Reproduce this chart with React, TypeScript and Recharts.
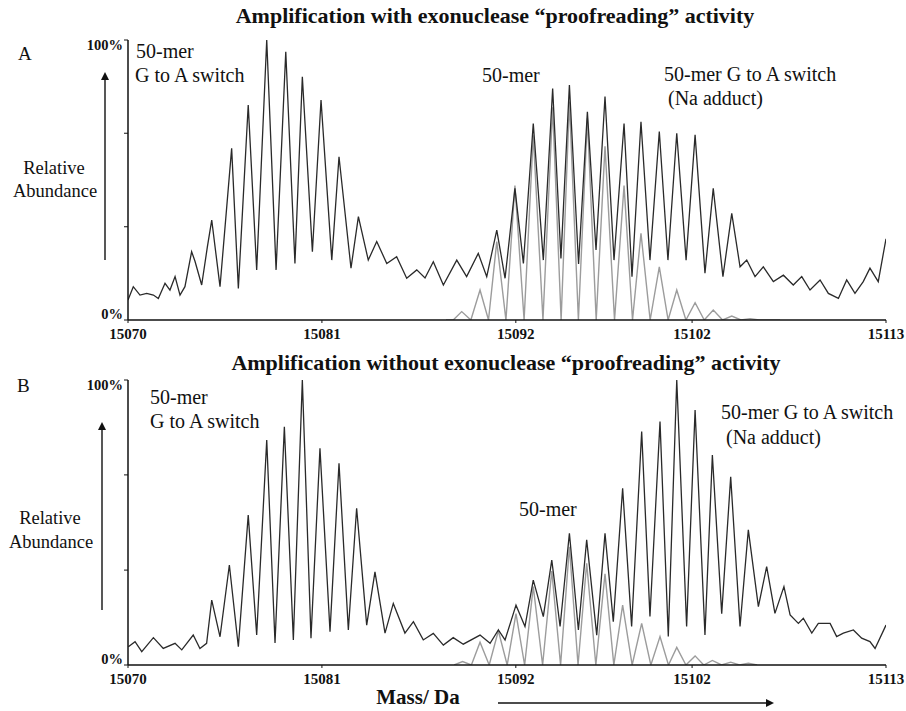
import React from 'react';
import { ComposedChart, Line, XAxis, YAxis } from 'recharts';

const FONT = "'Liberation Serif', 'Times New Roman', Times, serif";

const xTicks = [15070, 15081, 15092, 15102, 15113];
const yTicks = [0, 33.3, 66.7, 100];

// Panel A: observed spectrum, amplification with proofreading
const massA = [15070.0, 15070.3, 15070.68, 15071.06, 15071.44, 15071.72, 15072.1, 15072.38, 15072.67, 15072.95,
  15073.23, 15073.61, 15073.8, 15074.18, 15074.5, 15074.75, 15075.22, 15075.88, 15076.26, 15076.82,
  15077.3, 15077.87, 15078.4, 15078.95, 15079.47, 15079.89, 15080.46, 15080.95, 15081.56, 15081.97,
  15082.65, 15083.07, 15083.63, 15084.11, 15084.68, 15085.24, 15085.81, 15086.38, 15086.85, 15087.32,
  15087.89, 15088.65, 15089.21, 15089.87, 15090.35, 15090.92, 15091.39, 15091.95, 15092.43, 15092.99,
  15093.56, 15094.09, 15094.56, 15095.04, 15095.56, 15096.06, 15096.55, 15097.06, 15097.57, 15098.14,
  15098.59, 15099.1, 15099.61, 15100.14, 15100.63, 15101.13, 15101.66, 15102.17, 15102.73, 15103.2,
  15103.75, 15104.25, 15104.72, 15105.1, 15105.57, 15106.04, 15106.61, 15107.18, 15107.74, 15108.22,
  15108.69, 15109.26, 15109.73, 15110.3, 15110.77, 15111.24, 15111.71, 15112.09, 15112.56, 15113.0];
const abundA = [7.1, 11.9, 8.9, 9.5, 8.9, 7.7, 13.1, 10.7, 15.5, 8.9,
  11.9, 24.4, 21, 12.5, 26, 35.7, 11.9, 61.3, 11.3, 76.8,
  17.9, 100, 17.9, 95.8, 20.2, 86.9, 24.4, 78.6, 21.4, 58.3,
  18.5, 36.9, 21.4, 28.0, 20.2, 22.6, 14.9, 17.9, 15.0, 20.8,
  12.5, 21.4, 15.5, 23.8, 15.5, 32.1, 14.9, 47, 20.2, 70.2,
  21.4, 82.7, 22, 83.9, 20, 74.4, 25, 79.8, 21.4, 70.2,
  15.5, 70.8, 21.4, 67.3, 21.4, 66.7, 21.4, 66.1, 16.7, 47,
  15.5, 38.1, 19, 21.4, 15.5, 19, 13.7, 16, 12.5, 15.5,
  10.7, 14.3, 9.5, 7.7, 14.3, 9.5, 13.7, 18.5, 13.7, 29];

// Panel A: theoretical 50-mer isotope pattern (grey)
const grayMassA = [15088.04, 15088.45, 15088.93, 15089.45, 15089.97, 15090.45, 15090.92, 15091.44, 15091.95, 15092.47,
  15092.99, 15093.54, 15094.09, 15094.57, 15095.04, 15095.55, 15096.06, 15096.56, 15097.06, 15097.6,
  15098.14, 15098.62, 15099.1, 15099.62, 15100.14, 15100.64, 15101.13, 15101.65, 15102.17, 15102.69,
  15103.2, 15103.73, 15104.25, 15104.77, 15105.29, 15105.8, 15106.99];
const grayAbundA = [0, 0, 3, 0, 10.7, 0, 28, 0, 48, 0,
  66, 0, 76, 0, 78, 0, 72, 0, 62, 0,
  48, 0, 31, 0, 19, 0, 10.7, 0, 6.2, 0,
  3.6, 0, 1.4, 0, 0.5, 0, 0];

// Panel B: observed spectrum, amplification without proofreading
const massB = [15070.02, 15070.4, 15070.78, 15071.44, 15072.0, 15072.67, 15073.05, 15073.7, 15074.08, 15074.46,
  15074.75, 15075.22, 15075.75, 15076.26, 15076.82, 15077.3, 15077.87, 15078.34, 15078.87, 15079.38,
  15079.89, 15080.38, 15080.89, 15081.46, 15081.97, 15082.5, 15082.97, 15083.54, 15084.01, 15084.58,
  15085.05, 15085.71, 15086.19, 15086.75, 15087.32, 15087.89, 15088.45, 15089.02, 15089.97, 15090.54,
  15091.01, 15091.39, 15092.01, 15092.52, 15092.99, 15093.56, 15094.04, 15094.51, 15095.04, 15095.55,
  15096.02, 15096.59, 15097.06, 15097.53, 15098.06, 15098.57, 15099.14, 15099.61, 15100.18, 15100.65,
  15101.13, 15101.69, 15102.17, 15102.73, 15103.15, 15103.68, 15104.19, 15104.72, 15105.19, 15105.76,
  15106.23, 15106.7, 15107.21, 15107.56, 15108.03, 15108.31, 15108.79, 15109.16, 15109.83, 15110.2,
  15110.58, 15111.15, 15111.62, 15112.09, 15112.38, 15113.0];
const abundB = [6.4, 8.2, 4.7, 9.6, 5.8, 7.6, 5.3, 10.5, 5.8, 7.6,
  22.8, 9.9, 35.1, 6.4, 52.6, 10.5, 78.9, 7.7, 83.6, 8.8,
  100, 9.4, 76, 11.7, 70.8, 12.3, 55, 14, 32.7, 11.2,
  21.6, 11.2, 15.2, 8.8, 11.1, 7, 9.6, 7.3, 10.5, 7.6,
  12.3, 8.8, 21, 13.5, 29.8, 17, 36.8, 13.5, 46.2, 12.3,
  43.9, 10.5, 46.2, 15.2, 62, 13.5, 81.9, 17, 85.4, 10,
  100, 13.5, 89.5, 10.5, 73.7, 18, 66, 13.5, 47.4, 20.5,
  34.5, 18.1, 27.5, 17.6, 14.6, 16.4, 11.2, 14.6, 14.6, 10,
  11.2, 12.3, 9.4, 8.2, 5.8, 14];

// Panel B: theoretical 50-mer isotope pattern (grey)
const grayMassB = [15088.5, 15088.98, 15089.48, 15089.97, 15090.49, 15091.01, 15091.51, 15092.01, 15092.5, 15092.99,
  15093.52, 15094.04, 15094.54, 15095.04, 15095.53, 15096.02, 15096.54, 15097.06, 15097.56, 15098.06,
  15098.6, 15099.14, 15099.66, 15100.18, 15100.66, 15101.13, 15101.65, 15102.17, 15102.66, 15103.15,
  15103.67, 15104.19, 15104.69, 15105.19, 15105.69];
const grayAbundB = [0, 1.2, 0, 8, 0, 12, 0, 18, 0, 27.5,
  0, 33, 0, 41.5, 0, 35.7, 0, 32, 0, 21,
  0, 14.6, 0, 10, 0, 6.2, 0, 3.2, 0, 1.6,
  0, 1.0, 0, 0.6, 0];

const zip = (xs: number[], ys: number[]) =>
  xs.slice(0, Math.min(xs.length, ys.length)).map((m, i) => ({ m, v: ys[i] }));

function XTick(props: any) {
  const { x, y, payload } = props;
  return (
    <text x={x} y={y + 9} textAnchor="middle" dominantBaseline="central" fontFamily={FONT}
      fontWeight="bold" fontSize={15} fill="#111">{payload.value}</text>
  );
}

function YTick(props: any) {
  const { x, y, payload } = props;
  const v = payload.value;
  if (v !== 0 && v !== 100) return <g />;
  return (
    <text x={x} y={v === 0 ? y - 6 : y + 5} textAnchor="end" dominantBaseline="central" fontFamily={FONT}
      fontWeight="bold" fontSize={14.5} fill="#111">{v === 0 ? '0%' : '100%'}</text>
  );
}

function Panel({ top, height, black, gray }: { top: number; height: number; black: any[]; gray: any[] }) {
  return (
    <div style={{ position: 'absolute', left: 0, top, width: 906, height }}>
      <ComposedChart width={906} height={height} margin={{ top: 40, right: 20, bottom: 0, left: 68 }}>
        <XAxis type="number" dataKey="m" domain={[15070, 15113]} ticks={xTicks} interval={0} allowDataOverflow
          height={25} tickSize={3} tickMargin={2} tick={<XTick />}
          axisLine={{ stroke: '#111', strokeWidth: 1.5 }} tickLine={{ stroke: '#111' }} />
        <YAxis type="number" domain={[0, 100]} ticks={yTicks} interval={0} allowDataOverflow
          width={60} tickSize={4} tickMargin={1} tick={<YTick />}
          axisLine={{ stroke: '#111', strokeWidth: 1.5 }} tickLine={{ stroke: '#111' }} />
        <Line data={gray} dataKey="v" type="linear" stroke="#9c9c9c" strokeWidth={1.4} dot={false}
          isAnimationActive={false} />
        <Line data={black} dataKey="v" type="linear" stroke="#2a2a2a" strokeWidth={1.3} dot={false}
          isAnimationActive={false} />
      </ComposedChart>
    </div>
  );
}

const txt = (x: number, y: number, s: string, size: number, anchor: 'start' | 'middle' | 'end' = 'start', bold = false) => (
  <text x={x} y={y} textAnchor={anchor} dominantBaseline="central" fontFamily={FONT} fontSize={size}
    fontWeight={bold ? 'bold' : 'normal'} fill="#111">{s}</text>
);

export default function App() {
  const blackA = zip(massA, abundA);
  const grayA = zip(grayMassA, grayAbundA);
  const blackB = zip(massB, abundB);
  const grayB = zip(grayMassB, grayAbundB);
  return (
    <div style={{ position: 'absolute', left: 0, top: 0, width: 906, height: 711, background: '#fff', overflow: 'hidden' }}>
      <Panel top={0} height={345} black={blackA} gray={grayA} />
      <Panel top={340} height={350} black={blackB} gray={grayB} />
      <svg width={906} height={711} style={{ position: 'absolute', left: 0, top: 0, pointerEvents: 'none' }}>
        <defs>
          <marker id="ah" markerWidth="8" markerHeight="8" refX="4" refY="4" orient="auto" markerUnits="userSpaceOnUse">
            <path d="M0,0 L8,4 L0,8 z" fill="#111" />
          </marker>
        </defs>
        {txt(495, 15, 'Amplification with exonuclease \u201cproofreading\u201d activity', 22, 'middle', true)}
        {txt(506, 362, 'Amplification without exonuclease \u201cproofreading\u201d activity', 22, 'middle', true)}
        {txt(18, 53, 'A', 19)}
        {txt(17, 385, 'B', 19)}
        {txt(54, 168, 'Relative', 18.5, 'middle')}
        {txt(55, 191, 'Abundance', 18.5, 'middle')}
        {txt(50, 518, 'Relative', 18.5, 'middle')}
        {txt(51, 542, 'Abundance', 18.5, 'middle')}
        <line x1={105} y1={260} x2={105} y2={76} stroke="#111" strokeWidth={1.4} markerEnd="url(#ah)" />
        <line x1={102} y1={610} x2={102} y2={426} stroke="#111" strokeWidth={1.4} markerEnd="url(#ah)" />
        {txt(136, 51, '50-mer', 20)}
        {txt(135, 75, 'G to A switch', 20)}
        {txt(482, 75, '50-mer', 20)}
        {txt(664, 74, '50-mer G to A switch', 20)}
        {txt(668, 98, '(Na adduct)', 20)}
        {txt(150, 397, '50-mer', 20)}
        {txt(150, 421, 'G to A switch', 20)}
        {txt(519, 509, '50-mer', 20)}
        {txt(721, 412, '50-mer G to A switch', 20)}
        {txt(726, 437, '(Na adduct)', 20)}
        {txt(418, 697, 'Mass/ Da', 21, 'middle', true)}
        <line x1={498} y1={703} x2={770} y2={703} stroke="#111" strokeWidth={1.4} markerEnd="url(#ah)" />
      </svg>
    </div>
  );
}
